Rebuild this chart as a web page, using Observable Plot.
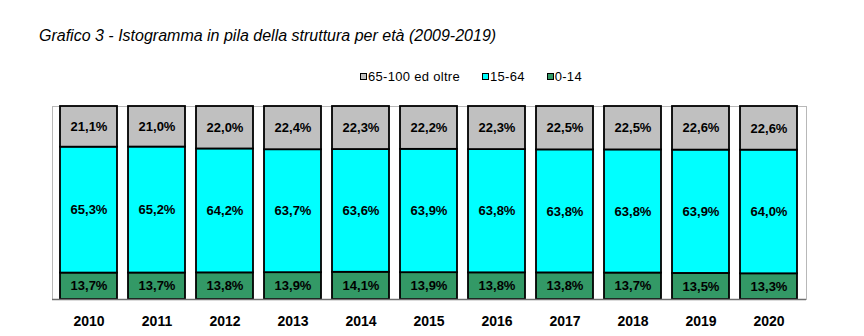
<!DOCTYPE html>
<html>
<head>
<meta charset="utf-8">
<script src="https://cdn.jsdelivr.net/npm/d3@7"></script>
<script src="https://cdn.jsdelivr.net/npm/@observablehq/plot@0.6"></script>
<style>
  body { margin: 0; width: 864px; height: 336px; position: relative; background: #fff; font-family: Arial, "Liberation Sans", sans-serif; overflow: hidden; }
  #title { position: absolute; left: 39px; top: 27px; font-size: 16px; font-style: italic; color: #000; white-space: nowrap; }
  #legend { position: absolute; left: 360px; top: 69px; display: flex; gap: 22px; font-size: 13px; letter-spacing: 0.3px; color: #000; white-space: nowrap; }
  #legend .item { display: flex; align-items: center; }
  #legend .sw { width: 7px; height: 7px; border: 1px solid #000; box-sizing: border-box; margin-right: 1px; }
  #chart { position: absolute; left: 0; top: 90px; }
</style>
</head>
<body>
<div id="title">Grafico 3 - Istogramma in pila della struttura per età (2009-2019)</div>
<div id="legend"></div>
<div id="chart"></div>
<script>
const years = ["2010","2011","2012","2013","2014","2015","2016","2017","2018","2019","2020"];
const groups = ["0-14", "15-64", "65-100 ed oltre"];
const colors = ["#339966", "#00FFFF", "#C0C0C0"];
const young = [13.7, 13.7, 13.8, 13.9, 14.1, 13.9, 13.8, 13.8, 13.7, 13.5, 13.3];
const adults = [65.3, 65.2, 64.2, 63.7, 63.6, 63.9, 63.8, 63.8, 63.8, 63.9, 64.0];
const elderly = [21.1, 21.0, 22.0, 22.4, 22.3, 22.2, 22.3, 22.5, 22.5, 22.6, 22.6];
const series = [young, adults, elderly];

const data = [];
years.forEach((y, i) => {
  groups.forEach((g, j) => data.push({year: y, group: g, value: series[j][i]}));
});

// legend (top series first, like the reference)
const legend = document.getElementById("legend");
[2, 1, 0].forEach(j => {
  const it = document.createElement("div");
  it.className = "item";
  const sw = document.createElement("span");
  sw.className = "sw";
  sw.style.background = colors[j];
  const tx = document.createElement("span");
  tx.textContent = groups[j];
  it.appendChild(sw); it.appendChild(tx);
  legend.appendChild(it);
});

const fmt = v => v.toFixed(1).replace(".", ",") + "%";
const stackOpts = {x: "year", y: "value", z: "group", offset: "normalize", order: groups};

const chart = Plot.plot({
  width: 864,
  height: 246,
  marginTop: 16,
  marginBottom: 37,
  marginLeft: 52,
  marginRight: 58,
  style: {fontFamily: "Arial, 'Liberation Sans', sans-serif", background: "#fff"},
  x: {domain: years, paddingInner: 0.16, paddingOuter: 0.08, label: null},
  y: {axis: null, domain: [0, 1]},
  color: {domain: groups, range: colors},
  marks: [
    Plot.frame({stroke: "#b8b8b8", strokeWidth: 1}),
    Plot.barY(data, Plot.stackY({...stackOpts, fill: "group", stroke: "#000", strokeWidth: 1.8})),
    Plot.text(data, Plot.stackY({...stackOpts, text: d => fmt(d.value), fill: "#000", fontSize: 13, fontWeight: "bold"})),
    Plot.ruleY([0], {stroke: "#707070", strokeWidth: 1.5}),
    Plot.axisX({tickSize: 0, tickPadding: 17, fontSize: 14, fontWeight: "bold", fill: "#000", label: null})
  ]
});
document.getElementById("chart").appendChild(chart);
</script>
</body>
</html>
